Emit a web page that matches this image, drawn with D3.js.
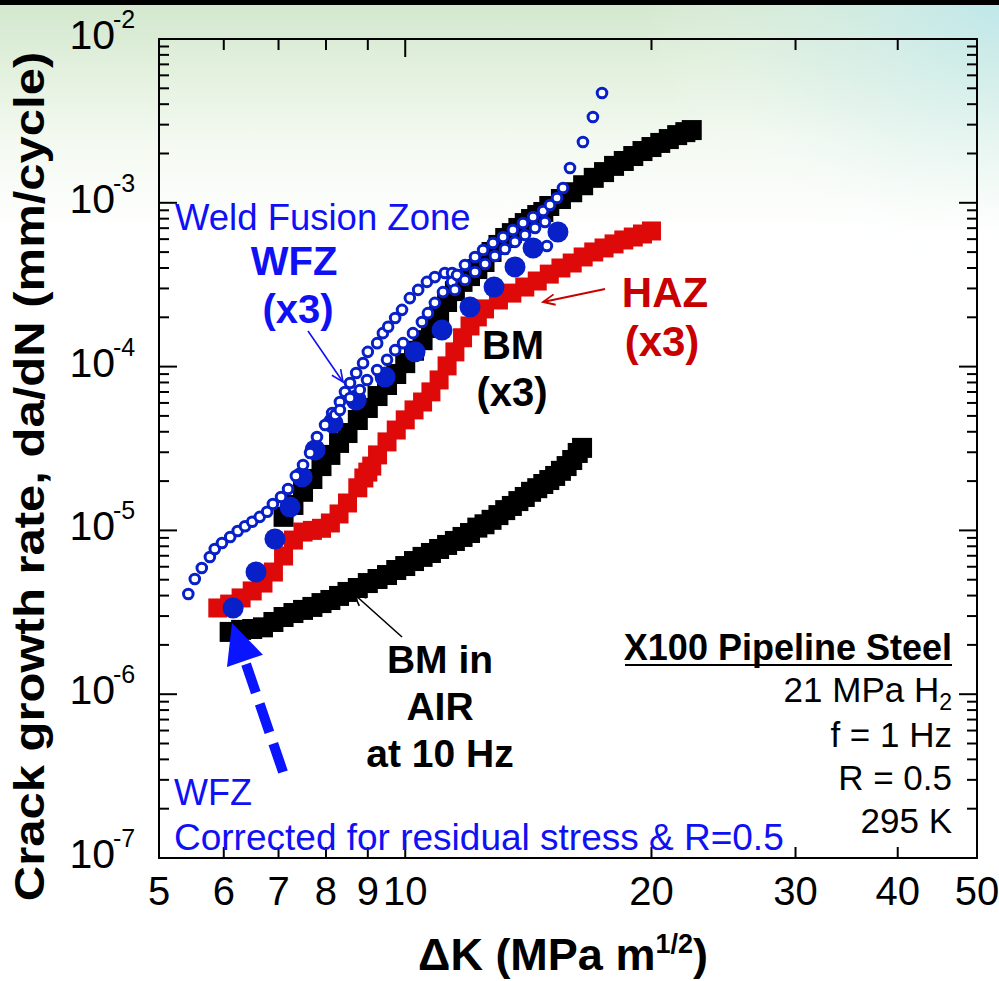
<!DOCTYPE html>
<html>
<head>
<meta charset="utf-8">
<script src="https://cdn.jsdelivr.net/npm/d3@7"></script>
<style>
  html, body { margin: 0; padding: 0; background: #fff; }
  svg { display: block; }
  text { font-family: "Liberation Sans", Arial, Helvetica, sans-serif; }
</style>
</head>
<body>
<svg id="chart" width="999" height="981"></svg>
<script>
// ---- Axis settings ----
const xDomain = [5, 50];          // ΔK, MPa m^1/2
const yDomain = [1e-7, 1e-2];     // da/dN, mm/cycle
const xTickValues = [6, 7, 8, 9, 10, 20, 30, 40];
const xTickLabels = [5, 6, 7, 8, 9, 10, 20, 30, 40, 50];
const yTickExponents = [-7, -6, -5, -4, -3, -2];

// ---- Series: [ΔK, da/dN] ----
// Base metal tested in air at 10 Hz
const bmAir = [
  [6.1,2.40e-6],[6.3,2.47e-6],[6.5,2.50e-6],[6.7,2.56e-6],[6.9,2.76e-6],
  [7.1,2.96e-6],[7.3,3.13e-6],[7.5,3.27e-6],[7.7,3.41e-6],[7.9,3.60e-6],
  [8.1,3.76e-6],[8.3,3.98e-6],[8.5,4.21e-6],[8.75,4.45e-6],[9.0,4.77e-6],
  [9.25,5.05e-6],[9.5,5.34e-6],[9.75,5.73e-6],[10,6.06e-6],[10.25,6.50e-6],
  [10.5,6.89e-6],[10.75,7.28e-6],[11,7.70e-6],[11.25,8.15e-6],[11.5,8.62e-6],
  [11.75,9.12e-6],[12,9.64e-6],[12.25,1.04e-5],[12.5,1.09e-5],[12.75,1.16e-5],
  [13,1.24e-5],[13.25,1.33e-5],[13.5,1.41e-5],[13.75,1.51e-5],[14,1.60e-5],
  [14.25,1.72e-5],[14.5,1.81e-5],[14.75,1.92e-5],[15,2.03e-5],[15.25,2.15e-5],
  [15.5,2.31e-5],[15.75,2.47e-5],[16,2.69e-5],[16.25,2.97e-5],[16.45,3.19e-5]
];

// Base metal in 21 MPa H2 (x3)
const bmH2 = [
  [7.1,1.21e-5],[7.3,1.43e-5],[7.5,1.72e-5],[7.7,2.06e-5],[7.9,2.47e-5],
  [8.1,2.89e-5],[8.3,3.42e-5],[8.5,3.93e-5],[8.75,4.72e-5],[9.0,5.59e-5],
  [9.25,6.61e-5],[9.5,7.72e-5],[9.75,9.01e-5],[10,1.05e-4],[10.25,1.25e-4],
  [10.5,1.45e-4],[10.75,1.72e-4],[11,2.04e-4],[11.25,2.48e-4],[11.5,2.89e-4],
  [11.75,3.29e-4],[12,3.57e-4],[12.25,3.94e-4],[12.5,4.35e-4],[12.75,5.01e-4],
  [13,5.53e-4],[13.25,6.10e-4],[13.5,6.53e-4],[13.75,7.02e-4],[14,7.52e-4],
  [14.25,7.96e-4],[14.5,8.42e-4],[14.75,8.79e-4],[15,9.56e-4],[15.5,1.055e-3],
  [16,1.16e-3],[16.5,1.28e-3],[17,1.42e-3],[17.5,1.54e-3],[18,1.68e-3],
  [18.5,1.80e-3],[19,1.93e-3],[19.5,2.07e-3],[20,2.19e-3],[20.5,2.32e-3],
  [21,2.45e-3],[21.5,2.59e-3],[22,2.70e-3],[22.4,2.78e-3]
];

// Heat affected zone in 21 MPa H2 (x3)
const haz = [
  [5.9,3.36e-6],[6.1,3.55e-6],[6.3,3.87e-6],[6.5,4.27e-6],[6.7,4.77e-6],
  [6.9,5.57e-6],[7.1,6.98e-6],[7.3,8.73e-6],[7.5,9.77e-6],[7.7,1.00e-5],
  [7.9,1.03e-5],[8.1,1.11e-5],[8.3,1.26e-5],[8.5,1.47e-5],[8.75,1.82e-5],
  [8.9,2.09e-5],[9.0,2.27e-5],[9.1,2.47e-5],[9.25,2.89e-5],[9.5,3.47e-5],
  [9.75,4.10e-5],[10,4.73e-5],[10.25,5.44e-5],[10.5,6.08e-5],[10.75,7.01e-5],
  [11,8.29e-5],[11.25,1.01e-4],[11.5,1.23e-4],[11.75,1.50e-4],[12,1.77e-4],
  [12.25,2.01e-4],[12.5,2.25e-4],[13,2.55e-4],[13.5,2.81e-4],[14,3.06e-4],
  [14.5,3.33e-4],[15,3.67e-4],[15.5,4.00e-4],[16,4.29e-4],[16.5,4.67e-4],
  [17,5.01e-4],[17.5,5.30e-4],[18,5.61e-4],[18.5,5.93e-4],[19,6.18e-4],
  [19.5,6.45e-4],[20,6.73e-4]
];

// Weld fusion zone, corrected for residual stress & R = 0.5
const wfzCorrected = [
  [6.16,3.36e-6],[6.57,5.57e-6],[6.93,8.86e-6],[7.23,1.39e-5],[7.48,2.12e-5],
  [7.76,3.10e-5],[8.16,4.52e-5],[8.71,6.25e-5],[9.45,8.64e-5],[10.28,1.23e-4],
  [11.09,1.67e-4],[12.0,2.31e-4],[12.84,3.06e-4],[13.62,4.06e-4],[14.33,5.30e-4],
  [15.37,6.63e-4]
];

// Weld fusion zone (x3), as measured
const wfzSpecimenA = [
  [5.43,4.09e-6],[5.53,5.05e-6],[5.64,5.90e-6],[5.77,6.88e-6],[5.85,7.70e-6],
  [5.97,8.38e-6],[6.11,9.12e-6],[6.24,9.92e-6],[6.37,1.06e-5],[6.50,1.13e-5],
  [6.64,1.21e-5],[6.78,1.30e-5],[6.89,1.45e-5],[7.05,1.60e-5],[7.19,1.79e-5],
  [7.35,2.15e-5],[7.50,2.51e-5],[7.65,2.97e-5],[7.80,3.72e-5],[7.98,4.40e-5],
  [8.14,5.21e-5],[8.32,6.08e-5],[8.44,7.00e-5],[8.56,7.94e-5],[8.71,9.14e-5],
  [8.88,1.05e-4],[9.00,1.23e-4],[9.24,1.39e-4],[9.39,1.60e-4],[9.53,1.75e-4],
  [9.72,1.98e-4],[9.91,2.22e-4],[10.13,2.62e-4],[10.37,2.94e-4],[10.63,3.29e-4],
  [10.87,3.52e-4],[11.18,3.73e-4],[11.41,3.73e-4],[11.60,3.62e-4]
];
const wfzSpecimenB = [
  [8.21,5.06e-5],[8.32,5.43e-5],[8.56,6.43e-5],[8.80,7.20e-5],[8.98,8.28e-5],
  [9.24,9.53e-5],[9.50,1.10e-4],[9.72,1.26e-4],[9.94,1.39e-4],[10.22,1.60e-4],
  [10.48,1.87e-4],[10.66,2.12e-4],[10.87,2.45e-4],[11.12,2.85e-4],[11.41,3.29e-4],
  [11.57,3.62e-4],[11.83,4.17e-4],[12.17,4.67e-4],[12.45,5.15e-4],[12.80,5.68e-4],
  [13.17,6.18e-4],[13.54,6.82e-4],[13.93,7.53e-4],[14.33,8.19e-4],[14.74,8.91e-4],
  [15.03,9.69e-4],[15.33,1.07e-3],[15.59,1.23e-3],[15.90,1.63e-3],[16.49,2.35e-3],
  [16.96,3.34e-3],[17.40,4.68e-3]
];
const wfzSpecimenC = [
  [11.50,2.94e-4],[11.83,3.38e-4],[12.17,3.78e-4],[12.52,4.23e-4],[12.87,4.73e-4],
  [13.24,5.22e-4],[13.62,5.77e-4],[14.01,6.36e-4],[14.41,7.02e-4],[14.82,7.63e-4],
  [14.90,5.45e-4]
];

// ---- Layout ----
const W = 999, H = 981;
const margin = { top: 39, right: 22, bottom: 123, left: 159 };
const svg = d3.select("#chart");

const x = d3.scaleLog().domain(xDomain).range([margin.left, W - margin.right]);
const y = d3.scaleLog().domain(yDomain).range([H - margin.bottom, margin.top]);
const [x0, x1] = x.range();
const [y0, y1] = [y.range()[1], y.range()[0]]; // top, bottom

const BLUE_TEXT = "#1010f5";
const BLUE_MARK = "#0820c8";
const RED_MARK = "#de0a0a";
const RED_TEXT = "#c80000";

// ---- Background ----
const defs = svg.append("defs");
const lg = defs.append("linearGradient").attr("id", "topFade")
  .attr("x1", 0).attr("y1", 0).attr("x2", 0).attr("y2", 1);
[[0, "#d2e7cd"], [0.06, "#e0efdb"], [0.14, "#f3f9f0"], [0.24, "#ffffff"], [1, "#ffffff"]]
  .forEach(([o, c]) => lg.append("stop").attr("offset", o).attr("stop-color", c));
const rg = defs.append("radialGradient").attr("id", "cornerTint")
  .attr("cx", 1).attr("cy", 0).attr("r", 0.36)
  .attr("gradientTransform", "scale(1,0.75)");
rg.append("stop").attr("offset", 0).attr("stop-color", "#bde7ee").attr("stop-opacity", 0.9);
rg.append("stop").attr("offset", 0.6).attr("stop-color", "#d8f1f2").attr("stop-opacity", 0.35);
rg.append("stop").attr("offset", 1).attr("stop-color", "#ffffff").attr("stop-opacity", 0);

svg.append("rect").attr("width", W).attr("height", H).attr("fill", "url(#topFade)");
svg.append("rect").attr("width", W).attr("height", H).attr("fill", "url(#cornerTint)");
svg.append("rect").attr("width", W).attr("height", 5).attr("fill", "#000");

// ---- Frame and ticks ----
const axes = svg.append("g").attr("stroke", "#000").attr("stroke-width", 2);
axes.append("rect").attr("x", x0).attr("y", y0).attr("width", x1 - x0).attr("height", y1 - y0)
  .attr("fill", "none");

const yTickValues = [];
yTickExponents.slice(0, -1).forEach(e => {
  d3.range(1, 10).forEach(m => yTickValues.push(m * Math.pow(10, e)));
});
yTickValues.forEach(v => {
  const major = Math.abs(Math.log10(v) - Math.round(Math.log10(v))) < 1e-9;
  const len = major ? 18 : 10;
  axes.append("line").attr("x1", x0).attr("x2", x0 + len).attr("y1", y(v)).attr("y2", y(v));
  axes.append("line").attr("x1", x1).attr("x2", x1 - len).attr("y1", y(v)).attr("y2", y(v));
});
xTickValues.forEach(v => {
  const len = v === 10 ? 18 : 11;
  axes.append("line").attr("x1", x(v)).attr("x2", x(v)).attr("y1", y1).attr("y2", y1 - len);
  axes.append("line").attr("x1", x(v)).attr("x2", x(v)).attr("y1", y0).attr("y2", y0 + len);
});

// ---- Text helper ----
function label(g, str, px, py, o = {}) {
  const sx = o.sx || 1;
  return g.append("text")
    .attr("transform", `translate(${px},${py})` + (sx !== 1 ? ` scale(${sx},1)` : ""))
    .attr("font-size", o.size || 20)
    .attr("font-weight", o.weight || "normal")
    .attr("fill", o.fill || "#000")
    .attr("text-anchor", o.anchor || "start")
    .text(str);
}

// ---- Tick labels ----
const tl = svg.append("g");
yTickExponents.forEach(e => {
  const py = y(Math.pow(10, e));
  label(tl, "10", x0 - 44, py + 10, { size: 41, anchor: "end" });
  label(tl, String(e), x0 - 46, py - 11, { size: 25 });
});
xTickLabels.forEach(v => {
  label(tl, String(v), x(v), y1 + 47, { size: 40, anchor: "middle" });
});

// ---- Axis titles ----
const xt = svg.append("text")
  .attr("x", (x0 + x1) / 2 - 5).attr("y", H - 11)
  .attr("text-anchor", "middle").attr("font-size", 45).attr("font-weight", "bold");
xt.append("tspan").text("\u0394K (MPa m");
xt.append("tspan").attr("font-size", 27).attr("dy", -17).text("1/2");
xt.append("tspan").attr("dy", 17).text(")");

svg.append("text")
  .attr("transform", `translate(44,${(y0 + y1) / 2 + 28}) scale(0.85,1) rotate(-90)`)
  .attr("text-anchor", "middle").attr("font-size", 49).attr("font-weight", "bold")
  .text("Crack growth rate, da/dN (mm/cycle)");

// ---- Data marks ----
const plot = svg.append("g");
function squares(data, size, color) {
  plot.append("g").selectAll("rect").data(data).join("rect")
    .attr("x", d => x(d[0]) - size / 2).attr("y", d => y(d[1]) - size / 2)
    .attr("width", size).attr("height", size).attr("fill", color);
}
squares(bmAir, 20, "#000");
squares(haz, 19, RED_MARK);
squares(bmH2, 20, "#000");

plot.append("g").selectAll("circle").data(wfzCorrected).join("circle")
  .attr("cx", d => x(d[0])).attr("cy", d => y(d[1])).attr("r", 10.5)
  .attr("fill", BLUE_MARK);

[wfzSpecimenA, wfzSpecimenB, wfzSpecimenC].forEach(series => {
  plot.append("g").selectAll("circle").data(series).join("circle")
    .attr("cx", d => x(d[0])).attr("cy", d => y(d[1])).attr("r", 4.8)
    .attr("fill", "#fff").attr("stroke", BLUE_MARK).attr("stroke-width", 3);
});

// ---- Annotations ----
const ann = svg.append("g");
function arrow(x1a, y1a, x2a, y2a, color, w) {
  const a = Math.atan2(y2a - y1a, x2a - x1a), hl = 13, ha = 0.42;
  ann.append("line").attr("x1", x1a).attr("y1", y1a).attr("x2", x2a).attr("y2", y2a)
    .attr("stroke", color).attr("stroke-width", w);
  ann.append("path")
    .attr("d", `M${x2a - hl * Math.cos(a - ha)},${y2a - hl * Math.sin(a - ha)}L${x2a},${y2a}` +
               `L${x2a - hl * Math.cos(a + ha)},${y2a - hl * Math.sin(a + ha)}`)
    .attr("fill", "none").attr("stroke", color).attr("stroke-width", w);
}

label(ann, "Weld Fusion Zone", 175, 230, { size: 36.5, fill: BLUE_TEXT });
label(ann, "WFZ", 294, 275, { size: 40, weight: "bold", fill: BLUE_TEXT, anchor: "middle" });
label(ann, "(x3)", 298, 323, { size: 40, weight: "bold", fill: BLUE_TEXT, anchor: "middle" });
arrow(308, 331, 343, 382, BLUE_TEXT, 1.6);

label(ann, "BM", 513, 359, { size: 40, weight: "bold", anchor: "middle" });
label(ann, "(x3)", 512, 406, { size: 40, weight: "bold", anchor: "middle" });

label(ann, "HAZ", 665, 307, { size: 42, weight: "bold", fill: RED_TEXT, anchor: "middle" });
label(ann, "(x3)", 662, 356, { size: 42, weight: "bold", fill: RED_TEXT, anchor: "middle" });
arrow(605, 289, 543, 302, RED_TEXT, 1.8);

label(ann, "BM in", 440, 673, { size: 39, weight: "bold", anchor: "middle" });
label(ann, "AIR", 440, 720, { size: 39, weight: "bold", anchor: "middle" });
label(ann, "at 10 Hz", 440, 767, { size: 39, weight: "bold", anchor: "middle" });
arrow(402, 637, 354, 594, "#000", 1.6);

// Test conditions block
const condRight = 952;
label(ann, "X100 Pipeline Steel", condRight, 660, { size: 36, weight: "bold", anchor: "end" });
ann.append("line").attr("x1", 625).attr("x2", condRight).attr("y1", 665).attr("y2", 665)
  .attr("stroke", "#000").attr("stroke-width", 2);
const h2 = ann.append("text").attr("x", condRight).attr("y", 702)
  .attr("text-anchor", "end").attr("font-size", 35);
h2.append("tspan").text("21 MPa H");
h2.append("tspan").attr("font-size", 23).attr("dy", 8).text("2");
label(ann, "f = 1 Hz", condRight, 747, { size: 35, anchor: "end" });
label(ann, "R = 0.5", condRight, 790, { size: 35, anchor: "end" });
label(ann, "295 K", condRight, 833, { size: 35, anchor: "end" });

label(ann, "WFZ", 174, 805, { size: 36, fill: BLUE_TEXT });
label(ann, "Corrected for residual stress & R=0.5", 174, 850, { size: 37, fill: BLUE_TEXT });

// Thick dashed arrow pointing at the first corrected WFZ point
(function () {
  const tail = [283, 772], tip = [232, 623];
  const dx = tip[0] - tail[0], dy = tip[1] - tail[1], L = Math.hypot(dx, dy);
  const ux = dx / L, uy = dy / L, px = -uy, py = ux;
  const headL = 40, headW = 19;
  const bx = tip[0] - ux * headL, by = tip[1] - uy * headL;
  ann.append("line").attr("x1", tail[0]).attr("y1", tail[1]).attr("x2", bx).attr("y2", by)
    .attr("stroke", "#0a14ff").attr("stroke-width", 10).attr("stroke-dasharray", "30 12");
  ann.append("path")
    .attr("d", `M${tip[0]},${tip[1]}L${bx + px * headW},${by + py * headW}L${bx - px * headW},${by - py * headW}Z`)
    .attr("fill", "#0a14ff");
})();
</script>
</body>
</html>
